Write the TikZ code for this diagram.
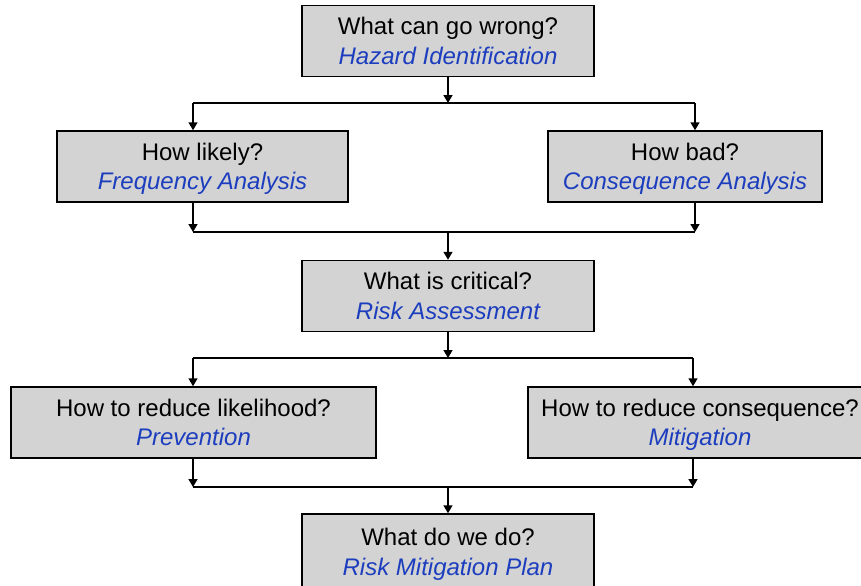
\documentclass[tikz,border=0pt]{standalone}
\usepackage{fontspec}
\setmainfont{Liberation Sans}
\usetikzlibrary{arrows.meta}
\definecolor{boxgray}{RGB}{211,211,211}
\definecolor{labelblue}{RGB}{28,62,190}
\tikzset{
  stagebox/.style={draw=black, line width=0.75pt, fill=boxgray, inner sep=0pt,
    minimum height=35.5pt, align=center,
    font=\fontsize{12}{14.75}\selectfont},
  conn/.style={line width=0.75pt, draw=black},
  arr/.style={conn, -{Triangle[length=4pt,width=4.5pt]}},
}
\newcommand{\boxtext}[2]{\raisebox{-1.2pt}[\height][\depth]{\begin{tabular}{@{}c@{}}#1\\\textcolor{labelblue}{\itshape #2}\end{tabular}}}
\begin{document}
\begin{tikzpicture}[x=0.5pt,y=-0.5pt]
\clip (0,0) rectangle (861,585);
\fill[white] (0,0) rectangle (861,585);
% boxes
\node[stagebox, minimum width=146pt] (t) at (448,41) {\boxtext{What can go wrong?}{Hazard Identification}};
\node[stagebox, minimum width=145.5pt] (l1) at (202.5,166.5) {\boxtext{How likely?}{Frequency Analysis}};
\node[stagebox, minimum width=137pt] (r1) at (685,166.5) {\boxtext{How bad?}{Consequence Analysis}};
\node[stagebox, minimum width=146pt] (m) at (448,296) {\boxtext{What is critical?}{Risk Assessment}};
\node[stagebox, minimum width=182.5pt] (l2) at (193.5,422.5) {\boxtext{How to reduce likelihood?}{Prevention}};
\node[stagebox, minimum width=172pt] (r2) at (700,422.5) {\boxtext{How to reduce consequence?}{Mitigation}};
\node[stagebox, minimum width=146pt, minimum height=38pt] (b) at (448,552) {\boxtext{What do we do?}{Risk Mitigation Plan}};
% junction points
\coordinate (j1) at (448,103); \coordinate (a1) at (193,103); \coordinate (b1) at (695,103);
\coordinate (j2) at (448,232); \coordinate (a2) at (193,232); \coordinate (b2) at (695,232);
\coordinate (j3) at (448,358); \coordinate (a3) at (193,358); \coordinate (b3) at (693,358);
\coordinate (j4) at (448,487); \coordinate (a4) at (193,487); \coordinate (b4) at (693,487);
% level 1
\draw[arr] (t.south) -- (j1);
\draw[conn] (a1) -- (b1);
\draw[arr] (a1) -- (a1 |- l1.north);
\draw[arr] (b1) -- (b1 |- r1.north);
% level 2
\draw[arr] (a2 |- l1.south) -- (a2);
\draw[arr] (b2 |- r1.south) -- (b2);
\draw[conn] (a2) -- (b2);
\draw[arr] (j2) -- (m.north);
% level 3
\draw[arr] (m.south) -- (j3);
\draw[conn] (a3) -- (b3);
\draw[arr] (a3) -- (a3 |- l2.north);
\draw[arr] (b3) -- (b3 |- r2.north);
% level 4
\draw[arr] (a4 |- l2.south) -- (a4);
\draw[arr] (b4 |- r2.south) -- (b4);
\draw[conn] (a4) -- (b4);
\draw[arr] (j4) -- (b.north);
\end{tikzpicture}
\end{document}
